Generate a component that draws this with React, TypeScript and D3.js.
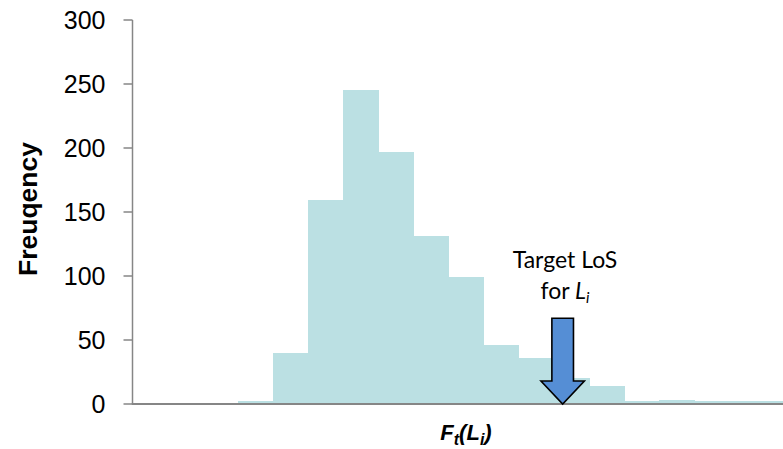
import React from "react";
import * as d3 from "d3";

// Histogram bins (index of bin) and their frequencies
const binIndex = [0, 1, 2, 3, 4, 5, 6, 7, 8, 9, 10, 11, 12, 13, 14, 15];
const frequencies = [2, 40, 159, 245, 197, 131, 99, 46, 36, 20, 14, 2, 3, 2, 2, 2];
const yTicks = [0, 50, 100, 150, 200, 250, 300];
const targetBin = 9.25; // where the "Target LoS" arrow points
const yLabel = "Freuqency";

const W = 783;
const H = 449;

export default function App() {
  const x = d3.scaleLinear().domain([-3, 16]).range([132.7, 799.6]);
  const y = d3.scaleLinear().domain([0, 300]).range([404, 20]);
  const axisX = 132.5;
  const axisColor = "#868686";
  const barColor = "#bbe0e3";

  const ax = x(targetBin);
  const shaftHalf = 10.8;
  const headHalf = 21.7;
  const yTop = y(67);
  const yHead = y(18);
  const yTip = y(0);
  const arrowPts = [
    [ax - shaftHalf, yTop],
    [ax + shaftHalf, yTop],
    [ax + shaftHalf, yHead],
    [ax + headHalf, yHead],
    [ax, yTip],
    [ax - headHalf, yHead],
    [ax - shaftHalf, yHead],
  ];

  return (
    <svg
      width={W}
      height={H}
      style={{ position: "absolute", left: 0, top: 0, background: "#fff" }}
      fontFamily="'Liberation Sans', Arial, sans-serif"
    >
      {/* bars */}
      <g shapeRendering="crispEdges">
        {binIndex.map((b, i) => (
          <rect
            key={b}
            x={x(b)}
            y={y(frequencies[i])}
            width={x(b + 1) - x(b) + 0.5}
            height={y(0) - y(frequencies[i])}
            fill={barColor}
          />
        ))}
      </g>

      {/* y axis */}
      <line x1={axisX} x2={axisX} y1={y(300)} y2={y(0)} stroke={axisColor} strokeWidth={1.5} />
      {yTicks.map((t) => (
        <g key={t}>
          <line x1={axisX - 9} x2={axisX} y1={y(t)} y2={y(t)} stroke={axisColor} strokeWidth={1.5} />
          <text x={105.5} y={y(t)} dy="0.36em" textAnchor="end" fontSize={25} fill="#000">
            {t}
          </text>
        </g>
      ))}

      {/* x axis */}
      <line x1={axisX - 0.75} x2={W} y1={y(0)} y2={y(0)} stroke={axisColor} strokeWidth={2.2} />

      {/* y label */}
      <text
        transform={`translate(37,${209}) rotate(-90)`}
        textAnchor="middle"
        fontSize={26.5}
        fontWeight="bold"
        fill="#000"
      >
        {yLabel}
      </text>

      {/* x label */}
      <text x={466} y={440} textAnchor="middle" fontSize={22} fontWeight="bold" fontStyle="italic" fill="#000">
        <tspan>F</tspan>
        <tspan fontSize={16} dy={5}>t</tspan>
        <tspan dy={-5}>(L</tspan>
        <tspan fontSize={16} dy={5}>i</tspan>
        <tspan dy={-5}>)</tspan>
      </text>

      {/* annotation */}
      <text x={565} y={268} textAnchor="middle" fontSize={23} fontFamily="Lato, 'Open Sans', sans-serif" fill="#000">
        Target LoS
      </text>
      <text x={565} y={299} textAnchor="middle" fontSize={23} fontFamily="Lato, 'Open Sans', sans-serif" fill="#000">
        <tspan>for </tspan>
        <tspan fontStyle="italic">L</tspan>
        <tspan fontStyle="italic" fontSize={15} dy={4}>i</tspan>
      </text>

      <polygon
        points={arrowPts.map((p) => p.join(",")).join(" ")}
        fill="#558ed5"
        stroke="#000"
        strokeWidth={1.6}
        strokeLinejoin="miter"
      />
    </svg>
  );
}
